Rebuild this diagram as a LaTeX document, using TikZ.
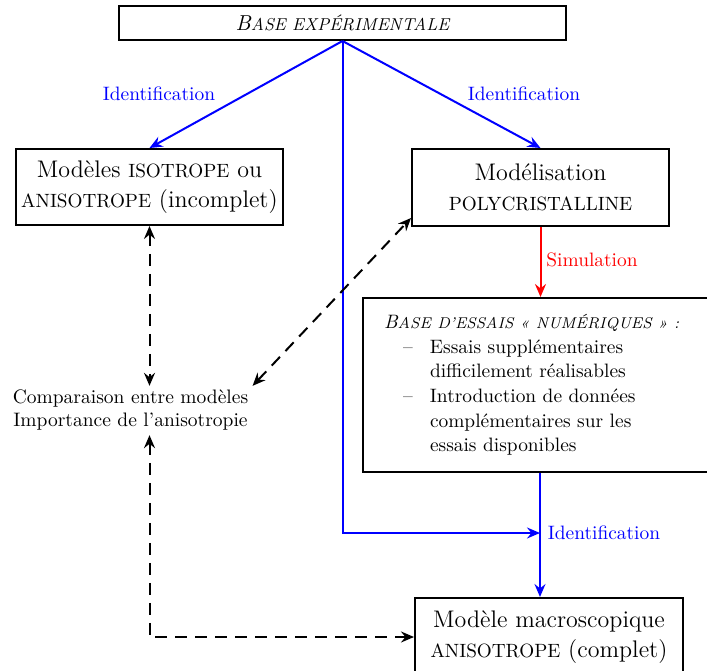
\documentclass[tikz,border=0pt]{standalone}
\usetikzlibrary{calc, positioning}
\usetikzlibrary{arrows.meta}

\definecolor{idblue}{RGB}{0,0,255}
\newcommand{\scbig}[1]{{\fontsize{9.6}{15}\selectfont #1}}
\newcommand{\sctop}[1]{{\fontsize{8.6}{15}\selectfont #1}}
\newcommand{\scsmall}[1]{{\fontsize{7.8}{12.3}\selectfont #1}}

\begin{document}
\begin{tikzpicture}[x=0.5pt,y=-0.5pt,
    >={Stealth[length=6.5pt,width=5.5pt,inset=2.2pt]},
    box/.style={draw=black, line width=1pt, align=center, inner sep=0pt,
        font=\fontsize{12}{15}\selectfont},
    lab/.style={inner sep=1pt, font=\fontsize{9.7}{12}\selectfont},
    flow/.style={line width=1pt, ->},
    dualdash/.style={black, line width=1pt, dash pattern=on 6pt off 4pt, <->}]
\useasboundingbox (0,0) rectangle (707,670);
\clip (0,0) rectangle (707,670);

% Boxes
\node[box, minimum width=223.5pt, minimum height=17pt, font=\fontsize{10.8}{13}\selectfont]
    (base) at (342.5,23) {\itshape B\sctop{ASE EXPÉRIMENTALE}};
\node[box, minimum width=133.5pt, minimum height=38pt] (iso) at (149.5,187)
    {Modèles \scbig{ISOTROPE} ou\\ \scbig{ANISOTROPE} (incomplet)};
\node[box, minimum width=128.5pt, minimum height=38.5pt] (poly) at (540.5,187.5)
    {Modélisation\\ \scbig{POLYCRISTALLINE}};
\node[box, anchor=west, align=left, text width=160pt, inner xsep=10.5pt,
    minimum height=87pt, font=\fontsize{9.7}{12.3}\selectfont] (num) at (362,385)
    {{\itshape B\scsmall{ASE D’ESSAIS « NUMÉRIQUES » :}}\\
     \makebox[23pt][l]{\hspace*{9.5pt}--}Essais supplémentaires\\
     \hspace*{23pt}difficilement réalisables\\
     \makebox[23pt][l]{\hspace*{9.5pt}--}Introduction de données\\
     \hspace*{23pt}complémentaires sur les\\
     \hspace*{23pt}essais disponibles};
\node[box, anchor=north, minimum width=134pt, minimum height=39pt] (macro) at (549,597)
    {Modèle macroscopique\\ \scbig{ANISOTROPE} (complet)};
\node[lab, align=center, inner sep=2pt, font=\fontsize{9.75}{11.5}\selectfont]
    (compar) at (130.5,410.5)
    {Comparaison entre modèles\\Importance de l’anisotropie};

% Arrow labels
\node[lab, text=idblue] (id1) at (159,94) {Identification};
\node[lab, text=idblue] (id2) at (524,94) {Identification};
\node[lab, text=red] (sim) at (592,260) {Simulation};
\node[lab, text=idblue] (id3) at (604,533) {Identification};

% Identification and simulation flows
\coordinate (J) at (540,533);
\draw[flow, idblue] (base.south) -- (iso.north);
\draw[flow, idblue] (base.south) -- (poly.north);
\draw[flow, idblue] (base.south) |- (J);
\draw[flow, red] (poly.south) -- (poly.south |- num.north);
\draw[flow, idblue] (J |- num.south) -- (J |- macro.north);

% Comparisons
\draw[dualdash] (iso.south) -- (iso.south |- compar.north);
\draw[dualdash] (compar.north east) -- ($(poly.south west)+(0,-9)$);
\draw[dualdash] (iso.south |- compar.south) |- (macro.west);
\end{tikzpicture}
\end{document}
